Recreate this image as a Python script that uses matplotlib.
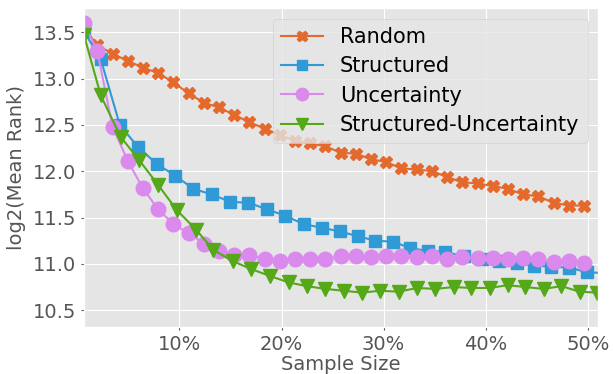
"""Recreation of the sample-size vs log2(mean rank) comparison chart."""
import matplotlib

matplotlib.use("Agg")
import matplotlib.pyplot as plt
from matplotlib.ticker import FuncFormatter

# sample sizes (%) for Random / Uncertainty
x_rand = [0.65, 1.95, 3.45, 4.95, 6.4, 7.9, 9.4, 10.9, 12.4, 13.85, 15.35,
          16.85, 18.35, 19.85, 21.3, 22.8, 24.3, 25.8, 27.3, 28.75, 30.25,
          31.75, 33.25, 34.75, 36.2, 37.7, 39.2, 40.7, 42.2, 43.65, 45.15,
          46.65, 48.15, 49.65]
random_vals = [13.55, 13.36, 13.27, 13.19, 13.12, 13.06, 12.96, 12.84, 12.74,
               12.69, 12.61, 12.53, 12.46, 12.39, 12.33, 12.30, 12.27, 12.20,
               12.19, 12.13, 12.10, 12.03, 12.02, 12.00, 11.94, 11.88, 11.87,
               11.84, 11.81, 11.75, 11.73, 11.66, 11.63, 11.63]
uncert_vals = [13.60, 13.30, 12.48, 12.11, 11.82, 11.59, 11.43, 11.33, 11.22,
               11.14, 11.10, 11.10, 11.05, 11.03, 11.055, 11.055, 11.055,
               11.08, 11.09, 11.07, 11.08, 11.08, 11.07, 11.09, 11.055, 11.07,
               11.06, 11.06, 11.055, 11.06, 11.05, 11.02, 11.03, 11.01]

# sample sizes (%) for Structured
x_struct = [0.65, 2.29, 4.16, 5.95, 7.78, 9.61, 11.37, 13.18, 14.97, 16.76,
            18.57, 20.36, 22.16, 23.96, 25.69, 27.45, 29.19, 30.92, 32.62,
            34.31, 36.05, 37.84, 39.65, 41.27, 43.04, 44.71, 46.39, 48.14,
            49.94, 51.7]
struct_vals = [13.51, 13.21, 12.50, 12.26, 12.08, 11.95, 11.81, 11.75, 11.67,
               11.66, 11.59, 11.52, 11.43, 11.39, 11.35, 11.30, 11.25, 11.24,
               11.17, 11.14, 11.13, 11.08, 11.05, 11.03, 11.01, 10.98, 10.97,
               10.96, 10.91, 10.90]

# sample sizes (%) for Structured-Uncertainty
x_su = [0.65, 2.29, 4.25, 6.06, 7.93, 9.75, 11.62, 13.33, 15.21, 17.01, 18.85,
        20.69, 22.47, 24.28, 26.08, 27.88, 29.67, 31.47, 33.27, 35.07, 36.86,
        38.6, 40.39, 42.15, 43.89, 45.68, 47.42, 49.19, 50.92]
su_vals = [13.47, 12.82, 12.37, 12.12, 11.85, 11.58, 11.37, 11.15, 11.03,
           10.945, 10.87, 10.80, 10.76, 10.73, 10.71, 10.69, 10.71, 10.70,
           10.74, 10.73, 10.75, 10.74, 10.74, 10.77, 10.75, 10.73, 10.76,
           10.70, 10.69]

plt.style.use("ggplot")
fig, ax = plt.subplots(figsize=(6.13, 3.74), dpi=100)
fig.subplots_adjust(left=0.137, right=0.9755, top=0.978, bottom=0.126)

ms = 10
ax.plot(x_rand, random_vals, marker="X", color="#E3692D", ms=ms - 1, lw=1.5,
        label="Random")
ax.plot(x_struct, struct_vals, marker="s", color="#2F9AD6", ms=ms - 1.5, lw=1.5,
        label="Structured")
ax.plot(x_rand, uncert_vals, marker="o", color="#D98AEC", ms=ms + 0.5, lw=1.5,
        label="Uncertainty")
ax.plot(x_su, su_vals, marker="v", color="#55A818", ms=ms + 0.5, lw=1.5,
        label="Structured-Uncertainty")

ax.set_xlim(0.65, 51.0)
ax.set_ylim(10.32, 13.76)
ax.set_xticks([10, 20, 30, 40, 50])
ax.set_yticks([10.5, 11.0, 11.5, 12.0, 12.5, 13.0, 13.5])
ax.xaxis.set_major_formatter(FuncFormatter(lambda v, _: f"{v:.0f}%"))
ax.tick_params(labelsize=14, colors="#555555", length=2)
ax.set_xlabel("Sample Size", fontsize=14, color="#555555", labelpad=1)
ax.set_ylabel("log2(Mean Rank)", fontsize=14, color="#555555", labelpad=5)

ax.legend(loc="upper right", fontsize=15, markerscale=0.85, labelspacing=0.45)

fig.savefig("out.png", dpi=100)
